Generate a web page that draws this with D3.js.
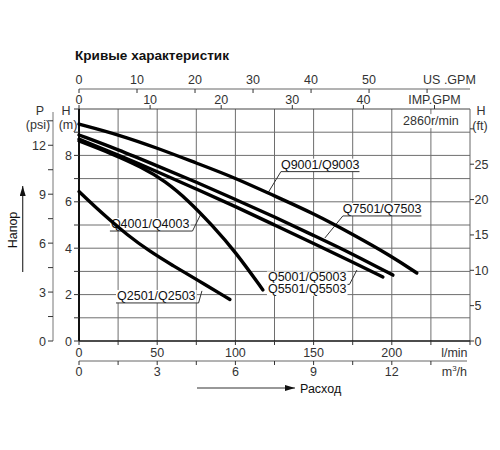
<!DOCTYPE html>
<html>
    <head>
        <meta charset="utf-8">
        <style>
            html, body { margin: 0; padding: 0; background: #fff; overflow: hidden; }
            svg { display: block; }
            text { font-family: 'Liberation Sans', Arial, sans-serif; }
        </style>
    </head>
    <body>
        <script src="https://d3js.org/d3.v7.min.js"></script>
        <svg id="mgSvg" width="500" height="450"></svg>

        <script>
            // curves: [flow l/min, head m]
            const q9001 = [[0, 9.35], [25, 8.9], [50, 8.32], [75, 7.67], [100, 7.03], [125, 6.25], [150, 5.5], [175, 4.6], [200, 3.65], [216, 2.93]];
            const q7501 = [[0, 8.88], [25, 8.25], [50, 7.55], [75, 6.85], [100, 6.1], [125, 5.35], [150, 4.55], [175, 3.75], [200.7, 2.84]];
            const q5001 = [[0, 8.7], [25, 8.02], [50, 7.3], [75, 6.55], [100, 5.8], [125, 5.0], [150, 4.2], [175, 3.4], [194.3, 2.76]];
            const q4001 = [[0, 8.62], [20, 8.1], [40, 7.5], [55, 6.9], [70, 6.05], [85, 5.0], [100, 3.85], [117.6, 2.2]];
            const q2501 = [[0, 6.44], [10, 5.8], [20, 5.2], [30, 4.62], [45, 3.87], [60, 3.25], [75, 2.66], [96.5, 1.79]];
            const curves = [q9001, q7501, q5001, q4001, q2501];

            // labels: text, text start (l/min), underline (m), leader end, leader side
            const labelNames = ['Q9001/Q9003', 'Q7501/Q7503', 'Q5001/Q5003', 'Q5501/Q5503', 'Q4001/Q4003', 'Q2501/Q2503'];
            const labelAt = [[129.1, 7.3], [168.7, 5.39], [120.8, 2.44], [120.8, 1.95], [20.4, 4.74], [24.3, 1.64]];
            const leaderTo = [[120.8, 6.38], [157.2, 4.44], [177.7, 3.06], null, [77.6, 5.43], [78.6, 2.16]];
            const leaderSide = ['left', 'left', 'right', null, 'right', 'right'];

            // tick labels
            const lminTicks = [0, 50, 100, 150, 200];
            const m3hTicks = [0, 3, 6, 9, 12];
            const usTicks = [0, 10, 20, 30, 40, 50];
            const impTicks = [0, 10, 20, 30, 40];
            const mTicks = [0, 2, 4, 6, 8];
            const psiTicks = [0, 3, 6, 9, 12];
            const ftTicks = [0, 5, 10, 15, 20, 25];

            const margin = {top: 109, right: 30, bottom: 109, left: 79};
            const svg = d3.select('#mgSvg');
            const innerWidth = +svg.attr('width') - margin.left - margin.right;
            const innerHeight = +svg.attr('height') - margin.top - margin.bottom;

            const x = d3.scaleLinear().domain([0, 250]).range([margin.left, margin.left + innerWidth]);
            const y = d3.scaleLinear().domain([0, 10]).range([margin.top + innerHeight, margin.top]);
            const xM3 = d3.scaleLinear().domain([0, 15]).range(x.range());
            const xImp = d3.scaleLinear().domain([0, 250 / 4.546]).range(x.range());
            const xUs = d3.scaleLinear().domain([0, 67.4]).range(x.range());
            const yPsi = d3.scaleLinear().domain([0, 10 / 0.70307]).range(y.range());
            const yFt = d3.scaleLinear().domain([0, 10 / 0.3048]).range(y.range());

            const x0 = x(0), x1 = x(250), yb = y(0), yt = y(10);
            const ink = '#333';
            const fs = '12.5px';

            // grid
            const grid = svg.append('g').attr('stroke', '#6e6e6e').attr('stroke-width', 1);
            grid.selectAll('.vg').data(d3.range(25, 250, 25)).enter().append('line')
                .attr('x1', d => x(d)).attr('x2', d => x(d)).attr('y1', yt).attr('y2', yb);
            grid.selectAll('.hg').data(d3.range(1, 10, 1)).enter().append('line')
                .attr('x1', x0).attr('x2', x1).attr('y1', d => y(d)).attr('y2', d => y(d));

            // frame
            svg.append('line').attr('x1', x0).attr('x2', x1).attr('y1', yt).attr('y2', yt).attr('stroke', '#444');
            svg.append('line').attr('x1', x1).attr('x2', x1).attr('y1', yt).attr('y2', yb).attr('stroke', '#666');
            svg.append('line').attr('x1', x0).attr('x2', x1).attr('y1', yb).attr('y2', yb).attr('stroke', '#111').attr('stroke-width', 1.5);
            svg.append('line').attr('x1', x0).attr('x2', x0).attr('y1', yt).attr('y2', yb).attr('stroke', '#111').attr('stroke-width', 2);

            // bottom l/min axis
            const bt = svg.append('g').attr('stroke', ink);
            bt.selectAll('line').data(d3.range(0, 275, 25)).enter().append('line')
                .attr('x1', d => x(d)).attr('x2', d => x(d)).attr('y1', yb).attr('y2', yb + 4);
            svg.selectAll('.lmin').data(lminTicks).enter().append('text')
                .attr('x', d => x(d)).attr('y', yb + 15.5).attr('text-anchor', 'middle')
                .attr('font-size', fs).attr('fill', ink).text(d => d);
            svg.append('text').attr('x', x(240)).attr('y', yb + 15.5).attr('text-anchor', 'middle')
                .attr('font-size', fs).attr('fill', ink).text('l/min');

            // m3/h axis
            const ym3 = yb + 20;
            svg.append('line').attr('x1', x0).attr('x2', x1 - 3).attr('y1', ym3).attr('y2', ym3).attr('stroke', '#666');
            svg.append('g').attr('stroke', ink).selectAll('line').data(d3.range(0, 15, 1.5)).enter().append('line')
                .attr('x1', d => xM3(d)).attr('x2', d => xM3(d)).attr('y1', ym3).attr('y2', ym3 + 4);
            svg.selectAll('.m3').data(m3hTicks).enter().append('text')
                .attr('x', d => xM3(d)).attr('y', ym3 + 14.5).attr('text-anchor', 'middle')
                .attr('font-size', fs).attr('fill', ink).text(d => d);
            const m3 = svg.append('text').attr('x', x(240)).attr('y', ym3 + 14.5).attr('text-anchor', 'middle')
                .attr('font-size', fs).attr('fill', ink);
            m3.append('tspan').text('m');
            m3.append('tspan').attr('dy', -5).attr('font-size', '8px').text('3');
            m3.append('tspan').attr('dy', 5).text('/h');

            // top US GPM axis
            const yUs = yt - 20;
            svg.append('line').attr('x1', x0).attr('x2', x1).attr('y1', yUs).attr('y2', yUs).attr('stroke', '#666');
            svg.append('g').attr('stroke', ink).selectAll('line').data(d3.range(0, 70, 10)).enter().append('line')
                .attr('x1', d => xUs(d)).attr('x2', d => xUs(d)).attr('y1', yUs).attr('y2', yUs + 4);
            svg.selectAll('.us').data(usTicks).enter().append('text')
                .attr('x', d => xUs(d)).attr('y', yUs - 5.5).attr('text-anchor', 'middle')
                .attr('font-size', fs).attr('fill', ink).text(d => d);
            svg.append('text').attr('x', xUs(60) - 4).attr('y', yUs - 5.5)
                .attr('font-size', fs).attr('fill', ink).text('US .GPM');

            // top IMP GPM axis
            svg.append('g').attr('stroke', ink).selectAll('line').data(d3.range(0, 60, 10)).enter().append('line')
                .attr('x1', d => xImp(d)).attr('x2', d => xImp(d)).attr('y1', yt).attr('y2', yt - 4);
            svg.selectAll('.imp').data(impTicks).enter().append('text')
                .attr('x', d => xImp(d)).attr('y', yt - 5).attr('text-anchor', 'middle')
                .attr('font-size', fs).attr('fill', ink).text(d => d);
            svg.append('text').attr('x', xImp(50)).attr('y', yt - 5).attr('text-anchor', 'middle')
                .attr('font-size', fs).attr('fill', ink).text('IMP.GPM');

            // left H (m) axis
            svg.append('g').attr('stroke', ink).selectAll('line').data(d3.range(0, 11, 1)).enter().append('line')
                .attr('x1', x0 - 5).attr('x2', x0).attr('y1', d => y(d)).attr('y2', d => y(d));
            svg.selectAll('.hm').data(mTicks).enter().append('text')
                .attr('x', x0 - 7).attr('y', d => y(d) + 4.5).attr('text-anchor', 'end')
                .attr('font-size', fs).attr('fill', ink).text(d => d);
            svg.append('text').attr('x', 66).attr('y', yt + 5.5).attr('text-anchor', 'middle')
                .attr('font-size', fs).attr('fill', ink).text('H');
            svg.append('text').attr('x', 68).attr('y', yt + 19.5).attr('text-anchor', 'middle')
                .attr('font-size', fs).attr('fill', ink).text('(m)');

            // left P (psi) axis
            const xp = 53;
            svg.append('line').attr('x1', xp).attr('x2', xp).attr('y1', yt + 3).attr('y2', yb).attr('stroke', '#777');
            svg.append('g').attr('stroke', ink).selectAll('line').data(d3.range(0, 14.5, 1.5)).enter().append('line')
                .attr('x1', xp - 5).attr('x2', xp).attr('y1', d => yPsi(d)).attr('y2', d => yPsi(d));
            svg.selectAll('.psi').data(psiTicks).enter().append('text')
                .attr('x', xp - 7).attr('y', d => yPsi(d) + 4.5).attr('text-anchor', 'end')
                .attr('font-size', fs).attr('fill', ink).text(d => d);
            svg.append('text').attr('x', 40).attr('y', yt + 5.5).attr('text-anchor', 'middle')
                .attr('font-size', fs).attr('fill', ink).text('P');
            svg.append('text').attr('x', 38).attr('y', yt + 19.5).attr('text-anchor', 'middle')
                .attr('font-size', fs).attr('fill', ink).text('(psi)');

            // right H (ft) axis
            svg.append('g').attr('stroke', ink).selectAll('line').data(d3.range(0, 35, 5)).enter().append('line')
                .attr('x1', x1).attr('x2', x1 + 4).attr('y1', d => yFt(d)).attr('y2', d => yFt(d));
            svg.selectAll('.ft').data(ftTicks).enter().append('text')
                .attr('x', x1 + 4.5).attr('y', d => yFt(d) + 4.5)
                .attr('font-size', fs).attr('fill', ink).text(d => d);
            svg.append('text').attr('x', x1 + 11).attr('y', yt + 5.5).attr('text-anchor', 'middle')
                .attr('font-size', fs).attr('fill', ink).text('H');
            svg.append('text').attr('x', x1 + 10).attr('y', yt + 21).attr('text-anchor', 'middle')
                .attr('font-size', fs).attr('fill', ink).text('(ft)');

            // speed note
            const sp = svg.append('g');
            const spText = sp.append('text').attr('x', x(225)).attr('y', y(9.5) + 4.5).attr('text-anchor', 'middle')
                .attr('font-size', fs).attr('fill', ink).text('2860r/min');
            const sb = spText.node().getBBox();
            sp.insert('rect', 'text').attr('x', sb.x - 2).attr('y', sb.y).attr('width', sb.width + 4).attr('height', sb.height)
                .attr('fill', '#fff');

            // curve labels
            labelNames.forEach((name, i) => {
                const g = svg.append('g');
                const ux = x(labelAt[i][0]), uy = y(labelAt[i][1]);
                const t = g.append('text').attr('x', ux).attr('y', uy - 3)
                    .attr('font-size', fs).attr('fill', '#111').text(name);
                const b = t.node().getBBox();
                g.insert('rect', 'text').attr('x', b.x - 1).attr('y', b.y + 1).attr('width', b.width + 2).attr('height', b.height - 1)
                    .attr('fill', '#fff');
                if (leaderTo[i]) {
                    const left = leaderSide[i] === 'left';
                    const sx = left ? ux : ux + b.width + 3;
                    g.append('line').attr('x1', left ? ux : ux - 1).attr('x2', left ? ux + b.width : sx)
                        .attr('y1', uy).attr('y2', uy).attr('stroke', '#333');
                    g.append('line').attr('x1', sx).attr('y1', uy)
                        .attr('x2', x(leaderTo[i][0])).attr('y2', y(leaderTo[i][1])).attr('stroke', '#333');
                }
            });

            // curves
            const line = d3.line().x(d => x(d[0])).y(d => y(d[1])).curve(d3.curveBasis);
            svg.append('g').selectAll('path').data(curves).enter().append('path')
                .attr('d', line).attr('fill', 'none').attr('stroke', '#000')
                .attr('stroke-width', 3.4).attr('stroke-linecap', 'round');

            // title, fitted to the width it has in the picture
            const title = svg.append('text').attr('x', 75).attr('y', 60).attr('font-family', 'Roboto, sans-serif')
                .attr('font-weight', 'bold').attr('font-size', '15px').attr('fill', '#111').text('Кривые характеристик');
            const tw = title.node().getComputedTextLength();
            title.attr('font-size', (15 * 154 / tw).toFixed(2) + 'px');

            svg.append('defs').append('marker').attr('id', 'arr').attr('viewBox', '0 0 10 6')
                .attr('refX', 10).attr('refY', 3).attr('markerWidth', 10).attr('markerHeight', 6)
                .attr('markerUnits', 'userSpaceOnUse').attr('orient', 'auto')
                .append('path').attr('d', 'M0,0L10,3L0,6Z').attr('fill', '#111');

            svg.append('line').attr('x1', 197).attr('x2', 295).attr('y1', 388).attr('y2', 388)
                .attr('stroke', '#333').attr('stroke-width', 1.2).attr('marker-end', 'url(#arr)');
            svg.append('text').attr('x', 300).attr('y', 392.5).attr('font-family', "'Open Sans', sans-serif")
                .attr('font-size', '12.5px').attr('fill', '#111').text('Расход');

            svg.append('line').attr('x1', 22.7).attr('x2', 22.7).attr('y1', 272).attr('y2', 186)
                .attr('stroke', '#333').attr('stroke-width', 1.2).attr('marker-end', 'url(#arr)');
            svg.append('text').attr('transform', 'translate(16.5, 230) rotate(-90)').attr('text-anchor', 'middle')
                .attr('font-family', "'Open Sans', sans-serif").attr('font-size', '12.5px').attr('fill', '#111').text('Напор');
        </script>
    </body>
</html>
